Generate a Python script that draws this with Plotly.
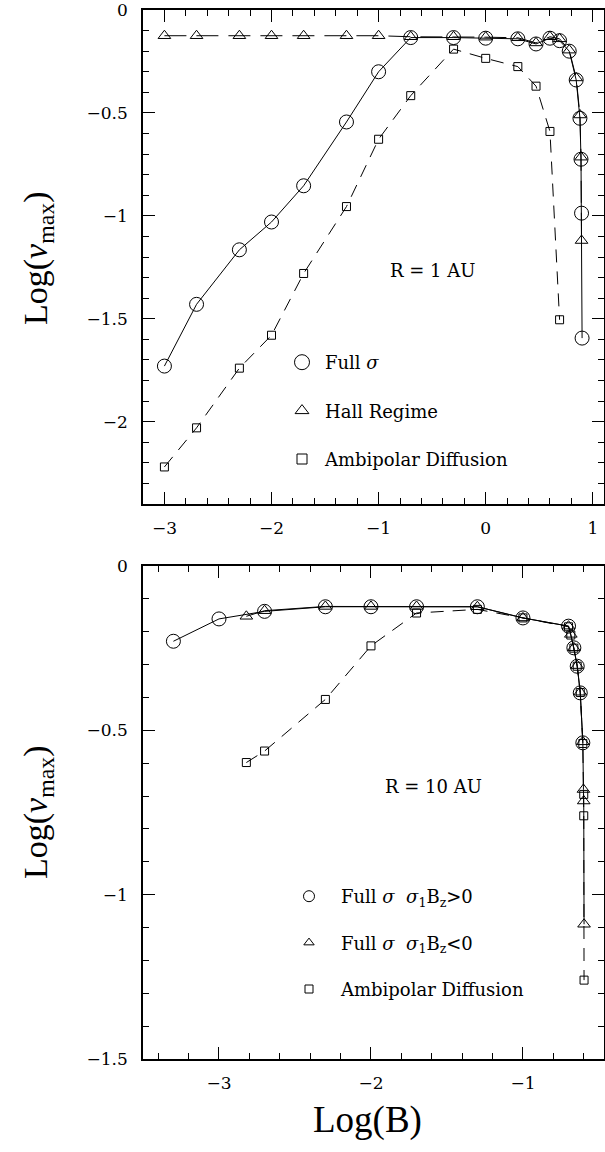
import plotly.graph_objects as go

W, H = 605, 1152

# ---- R = 1 AU ----
logb_1au_full = [-3.0, -2.7, -2.3, -2.0, -1.7, -1.3, -1.0, -0.7, -0.3, 0.0, 0.3, 0.47,
                 0.6, 0.69, 0.78, 0.845, 0.88, 0.89, 0.895, 0.9]
lognu_1au_full = [-1.73, -1.43, -1.165, -1.03, -0.854, -0.544, -0.30, -0.134, -0.134, -0.137,
                  -0.14, -0.165, -0.137, -0.149, -0.20, -0.34, -0.526, -0.725, -0.987, -1.594]

logb_1au_hall = [-3.0, -2.7, -2.3, -2.0, -1.7, -1.3, -1.0, -0.7, -0.3, 0.0, 0.3, 0.47,
                 0.6, 0.69, 0.78, 0.845, 0.88, 0.89, 0.895]
lognu_1au_hall = [-0.125, -0.125, -0.125, -0.125, -0.125, -0.125, -0.125, -0.13, -0.13, -0.132,
                  -0.135, -0.16, -0.13, -0.14, -0.195, -0.33, -0.51, -0.715, -1.12]

logb_1au_ambi = [-3.0, -2.7, -2.3, -2.0, -1.7, -1.3, -1.0, -0.7, -0.3, 0.0, 0.3, 0.47, 0.6, 0.69]
lognu_1au_ambi = [-2.22, -2.03, -1.74, -1.58, -1.28, -0.955, -0.628, -0.416, -0.19, -0.235,
                  -0.275, -0.37, -0.59, -1.505]

# ---- R = 10 AU ----
logb_10au_pos = [-3.3, -3.0, -2.7, -2.3, -2.0, -1.7, -1.3, -1.0, -0.7, -0.665, -0.643, -0.623, -0.606]
lognu_10au_pos = [-0.229, -0.161, -0.138, -0.124, -0.124, -0.124, -0.124, -0.158, -0.183, -0.249,
                  -0.305, -0.386, -0.538]

logb_10au_neg = [-2.82, -2.7, -2.3, -2.0, -1.7, -1.3, -1.0, -0.7, -0.685, -0.665, -0.643, -0.623,
                 -0.606, -0.602, -0.600, -0.598]
lognu_10au_neg = [-0.153, -0.136, -0.123, -0.123, -0.123, -0.124, -0.158, -0.183, -0.208, -0.249,
                  -0.303, -0.384, -0.535, -0.68, -0.715, -1.09]

logb_10au_ambi = [-2.82, -2.7, -2.3, -2.0, -1.7, -1.3, -1.0, -0.7, -0.685, -0.665, -0.643, -0.623,
                  -0.606, -0.600, -0.600, -0.598]
lognu_10au_ambi = [-0.598, -0.563, -0.406, -0.243, -0.143, -0.132, -0.158, -0.185, -0.21, -0.25,
                   -0.305, -0.385, -0.54, -0.695, -0.76, -1.26]

# tick values
xticks_top = [-3, -2, -1, 0, 1]
yticks_top = [0, -0.5, -1, -1.5, -2]
xticks_bot = [-3, -2, -1]
yticks_bot = [0, -0.5, -1, -1.5]

SERIF = "Liberation Serif"
TICKFONT = "DejaVu Serif"
BLACK = "black"
DASH_LONG = "22px,10px"
DASH_SHORT = "13px,9px"


def px_x(p):
    return p / W


def px_y(p):
    return 1 - p / H


fig = go.Figure()


def series(x, y, symbol, size, dash, xa, ya):
    fig.add_trace(go.Scatter(
        x=x, y=y, mode="lines+markers", xaxis=xa, yaxis=ya, showlegend=False,
        line=dict(color=BLACK, width=1, dash=dash),
        marker=dict(symbol=symbol, size=size, color=BLACK, line=dict(color=BLACK, width=1)),
    ))


def key(name, symbol, size, legend, group):
    fig.add_trace(go.Scatter(
        x=[None], y=[None], mode="markers", name=name, legend=legend, legendgroup=group,
        marker=dict(symbol=symbol, size=size, color=BLACK, line=dict(color=BLACK, width=1)),
    ))


# top panel
series(logb_1au_hall, lognu_1au_hall, "triangle-up-open", 11, DASH_LONG, "x", "y")
series(logb_1au_ambi, lognu_1au_ambi, "square-open", 8, DASH_SHORT, "x", "y")
series(logb_1au_full, lognu_1au_full, "circle-open", 14, "solid", "x", "y")

# bottom panel
series(logb_10au_ambi, lognu_10au_ambi, "square-open", 8, DASH_SHORT, "x2", "y2")
series(logb_10au_neg, lognu_10au_neg, "triangle-up-open", 11, "solid", "x2", "y2")
series(logb_10au_pos, lognu_10au_pos, "circle-open", 14, "solid", "x2", "y2")

# legend keys
key("Full <i>σ</i>", "circle-open", 15, "legend", "a")
key("Hall Regime", "triangle-up-open", 12, "legend", "b")
key("Ambipolar Diffusion", "square-open", 10, "legend", "c")
key("Full <i>σ</i>\u00a0\u00a0<i>σ</i><sub>1</sub>B<sub>z</sub>&gt;0", "circle-open", 11, "legend2", "d")
key("Full <i>σ</i>\u00a0\u00a0<i>σ</i><sub>1</sub>B<sub>z</sub>&lt;0", "triangle-up-open", 9, "legend2", "e")
key("Ambipolar Diffusion", "square-open", 8, "legend2", "f")

xdom = [px_x(143), px_x(603.5)]

axis_common = dict(
    showgrid=False, zeroline=False, showline=True, linecolor=BLACK, linewidth=1.5,
    mirror="allticks", ticks="inside", ticklen=12, tickwidth=1, tickcolor=BLACK,
    automargin=False, ticklabeloverflow="allow",
    tickfont=dict(family=TICKFONT, size=17, color=BLACK),
)


def minor(step):
    return dict(dtick=step, tick0=0, ticks="inside", ticklen=6, tickwidth=1, tickcolor=BLACK)


def label(text, x, y, size, family=SERIF, angle=0):
    return dict(text=text, x=px_x(x), y=px_y(y), xref="paper", yref="paper",
                xanchor="center", yanchor="middle", showarrow=False, textangle=angle,
                font=dict(family=family, size=size, color=BLACK))


fig.update_layout(
    width=W, height=H,
    margin=dict(l=0, r=0, t=0, b=0, autoexpand=False),
    paper_bgcolor="white", plot_bgcolor="white",
    xaxis=dict(domain=xdom, range=[-3.2, 1.1], tickvals=xticks_top, anchor="y",
               minor=minor(0.2), ticklabelstandoff=8, **axis_common),
    yaxis=dict(domain=[px_y(504), px_y(10)], range=[-2.4, 0], tickvals=yticks_top, anchor="x",
               minor=minor(0.1), ticklabelstandoff=10, **axis_common),
    xaxis2=dict(domain=xdom, range=[-3.5, -0.47], tickvals=xticks_bot, anchor="y2",
                minor=minor(0.2), ticklabelstandoff=8, **axis_common),
    yaxis2=dict(domain=[px_y(1059), px_y(566)], range=[-1.5, 0], tickvals=yticks_bot, anchor="x2",
                minor=minor(0.1), ticklabelstandoff=10, **axis_common),
    legend=dict(x=px_x(279), y=px_y(344), xanchor="left", yanchor="top",
                bgcolor="rgba(0,0,0,0)", tracegroupgap=22, itemwidth=36,
                font=dict(family=TICKFONT, size=18, color=BLACK)),
    legend2=dict(x=px_x(277), y=px_y(878), xanchor="left", yanchor="top",
                 bgcolor="rgba(0,0,0,0)", tracegroupgap=20, itemwidth=54,
                 font=dict(family=TICKFONT, size=18, color=BLACK)),
    annotations=[
        label("R = 1 AU", 432, 270, 18, TICKFONT),
        label("R = 10 AU", 433, 786, 18, TICKFONT),
        label("Log(<i>ν</i><sub>max</sub>)", 38, 258, 34, angle=-90),
        label("Log(<i>ν</i><sub>max</sub>)", 38, 812, 34, angle=-90),
        label("Log(B)", 368, 1120, 37),
    ],
)

fig.write_html("out.html")
